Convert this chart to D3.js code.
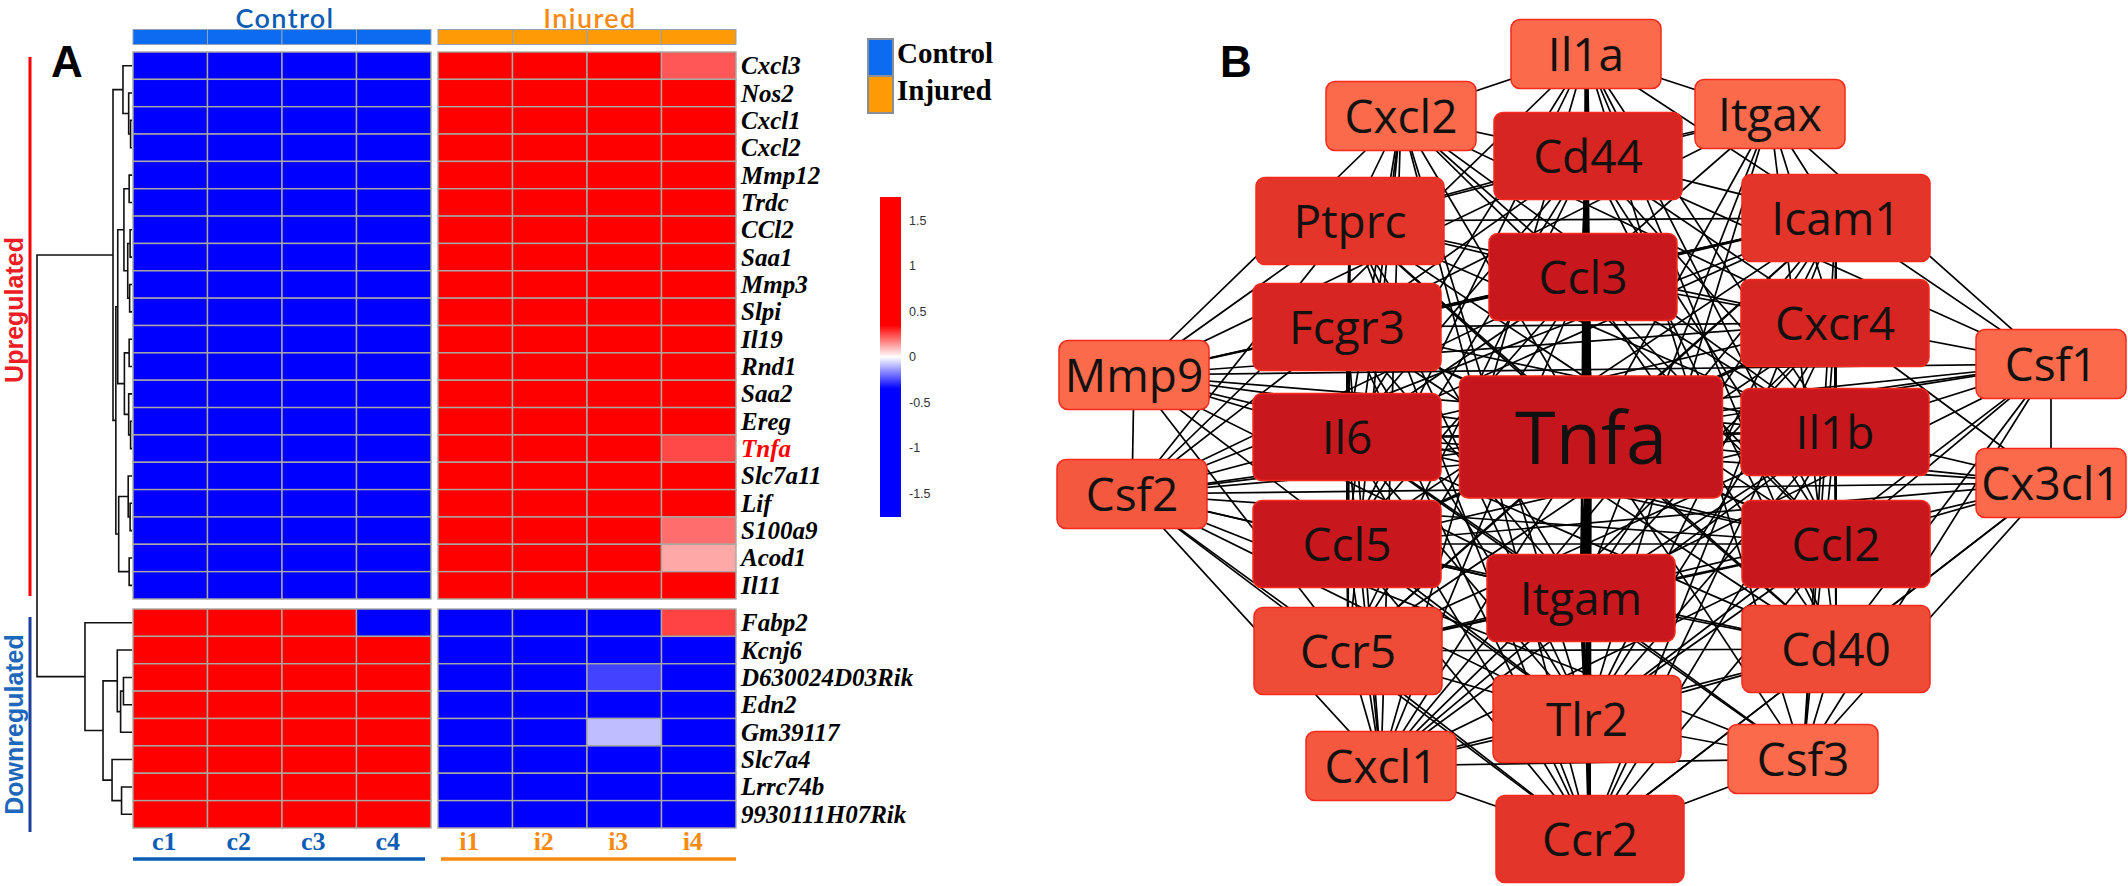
<!DOCTYPE html>
<html>
<head>
<meta charset="utf-8">
<script src="https://cdn.jsdelivr.net/npm/d3@7"></script>
<style>
  body { margin: 0; background: #fff; }
  svg { display: block; }
</style>
</head>
<body>
<div class="figure"></div>
<script>
// ---- panel A: heatmap data ----
const samples = ["c1", "c2", "c3", "c4", "i1", "i2", "i3", "i4"];
const sampleGroups = ["Control", "Control", "Control", "Control", "Injured", "Injured", "Injured", "Injured"];
const groupNames = ["Control", "Injured"];

const upGenes = ["Cxcl3", "Nos2", "Cxcl1", "Cxcl2", "Mmp12", "Trdc", "CCl2", "Saa1", "Mmp3", "Slpi",
  "Il19", "Rnd1", "Saa2", "Ereg", "Tnfa", "Slc7a11", "Lif", "S100a9", "Acod1", "Il11"];
const downGenes = ["Fabp2", "Kcnj6", "D630024D03Rik", "Edn2", "Gm39117", "Slc7a4", "Lrrc74b", "9930111H07Rik"];
const highlightGene = "Tnfa";

// z-scores, one row per gene, columns c1..c4, i1..i4
const upValues = [
  [-0.95, -0.93, -0.94, -0.96, 1.12, 1.18, 1.14, 0.23],
  [-0.92, -0.94, -0.95, -0.90, 1.05, 0.98, 1.08, 0.96],
  [-0.94, -0.91, -0.93, -0.95, 1.02, 1.06, 0.99, 0.92],
  [-0.93, -0.95, -0.92, -0.94, 1.04, 0.97, 1.03, 0.98],
  [-0.90, -0.96, -0.94, -0.93, 0.99, 1.07, 1.01, 0.94],
  [-0.95, -0.92, -0.96, -0.91, 1.03, 1.00, 0.95, 0.97],
  [-0.93, -0.94, -0.90, -0.95, 1.06, 0.98, 1.02, 0.91],
  [-0.91, -0.93, -0.95, -0.94, 1.00, 1.04, 0.97, 0.99],
  [-0.96, -0.90, -0.93, -0.92, 0.97, 1.05, 1.01, 0.95],
  [-0.92, -0.95, -0.91, -0.96, 1.02, 0.99, 1.06, 0.93],
  [-0.94, -0.93, -0.92, -0.93, 1.01, 1.03, 0.98, 0.96],
  [-0.93, -0.91, -0.96, -0.92, 0.98, 1.02, 1.05, 0.94],
  [-0.95, -0.94, -0.90, -0.93, 1.04, 0.96, 1.00, 0.97],
  [-0.91, -0.95, -0.94, -0.92, 1.00, 1.01, 0.99, 0.95],
  [-0.96, -0.97, -0.95, -0.96, 1.20, 1.25, 1.18, 0.25],
  [-0.92, -0.93, -0.94, -0.95, 1.03, 0.99, 1.02, 0.96],
  [-0.94, -0.92, -0.93, -0.91, 0.98, 1.04, 1.01, 0.93],
  [-0.98, -0.95, -0.96, -0.97, 1.21, 1.19, 1.24, 0.20],
  [-1.00, -0.98, -0.99, -0.97, 1.28, 1.30, 1.26, 0.12],
  [-0.93, -0.94, -0.92, -0.95, 1.02, 1.00, 0.99, 0.97]
];
const downValues = [
  [1.10, 1.05, 1.08, -0.60, -0.85, -0.90, -0.88, 0.26],
  [0.95, 0.98, 0.93, 0.96, -0.94, -0.97, -0.92, -0.95],
  [1.05, 1.02, 1.07, 1.04, -1.10, -1.06, -0.26, -1.08],
  [0.97, 0.94, 0.99, 0.96, -0.95, -0.98, -0.93, -0.96],
  [1.08, 1.10, 1.06, 1.09, -1.12, -1.15, -0.09, -1.11],
  [0.96, 0.99, 0.95, 0.97, -0.96, -0.94, -0.98, -0.93],
  [0.94, 0.97, 0.96, 0.95, -0.97, -0.93, -0.96, -0.95],
  [0.98, 0.95, 0.97, 0.94, -0.93, -0.96, -0.95, -0.97]
];

// colour key ticks
const legendTicks = [1.5, 1, 0.5, 0, -0.5, -1, -1.5];
const legendRange = [-1.76, 1.76];

// row dendrograms: [left, right, height], leaves are gene names
const upTree = [
  ["Cxcl3", ["Nos2", ["Cxcl1", "Cxcl2", 0.15], 0.35], 0.95],
  [
    [
      [["Mmp12", "Trdc", 0.3], [["CCl2", "Saa1", 0.2], ["Mmp3", "Slpi", 0.25], 0.45], 0.85],
      [["Il19", "Rnd1", 0.3], ["Saa2", ["Ereg", "Tnfa", 0.15], 0.35], 0.8],
      1.5
    ],
    [["Slc7a11", ["Lif", "S100a9", 0.2], 0.4], ["Acod1", "Il11", 0.3], 1.4],
    1.7
  ],
  2.0
];
const downTree = [
  "Fabp2",
  [
    ["Kcnj6", [["D630024D03Rik", "Edn2", 0.9], "Gm39117", 1.2], 1.55],
    ["Slc7a4", ["Lrrc74b", "9930111H07Rik", 1.1], 2.1],
    3.05
  ],
  4.95
];
const rootHeight = 10;

// ---- panel B: network data ----
const nodeNames = ["Il1a", "Cxcl2", "Itgax", "Cd44", "Ptprc", "Icam1", "Ccl3", "Fcgr3", "Cxcr4", "Mmp9",
  "Csf1", "Tnfa", "Il6", "Il1b", "Csf2", "Cx3cl1", "Ccl5", "Ccl2", "Itgam", "Ccr5", "Cd40", "Tlr2",
  "Cxcl1", "Csf3", "Ccr2"];
// layout coordinates (layout units, Tnfa at origin)
const nodeX = [-4, -189, 180, -2, -240, 246, -7, -243, 245, -456, 461, 1, -243, 245, -458, 461, -243, 246,
  -9, -242, 246, -3, -209, 213, 0];
const nodeY = [-383, -321, -323, -281, -216, -219, -160, -110, -114, -62, -73, 0, 0, -5, 57, 46, 107, 107,
  161, 214, 212, 282, 329, 322, 402];
// hub score (drives colour and box size)
const nodeScore = [4, 4, 4, 8, 7, 7, 9, 8, 8, 4, 4, 10, 9, 9, 5, 4, 9, 9, 9, 6, 6, 6, 5, 4, 7];

// interactions, listed once per pair
const interactions = {
  Tnfa: "Il6 Il1b Ccl2 Ccl3 Ccl5 Itgam Cd44 Fcgr3 Cxcr4 Icam1 Ptprc Ccr2 Cd40 Tlr2 Ccr5 Cxcl1 Csf2 Cxcl2 Il1a Itgax Mmp9 Csf1 Cx3cl1 Csf3",
  Il6: "Il1b Ccl2 Ccl3 Ccl5 Itgam Cd44 Fcgr3 Cxcr4 Icam1 Ptprc Ccr2 Cd40 Tlr2 Ccr5 Cxcl1 Csf2 Cxcl2 Il1a Mmp9 Csf1 Cx3cl1 Csf3",
  Il1b: "Ccl2 Ccl3 Ccl5 Itgam Cd44 Fcgr3 Cxcr4 Icam1 Ptprc Ccr2 Cd40 Tlr2 Ccr5 Cxcl1 Csf2 Cxcl2 Il1a Mmp9 Csf1 Cx3cl1 Csf3",
  Ccl2: "Ccl3 Ccl5 Itgam Cd44 Fcgr3 Cxcr4 Icam1 Ptprc Ccr2 Cd40 Tlr2 Ccr5 Cxcl1 Csf2 Cxcl2 Il1a Mmp9 Csf1 Cx3cl1",
  Ccl3: "Ccl5 Itgam Cd44 Fcgr3 Cxcr4 Icam1 Ptprc Ccr2 Cd40 Tlr2 Ccr5 Cxcl1 Csf2 Cxcl2 Il1a Itgax Mmp9",
  Ccl5: "Itgam Cd44 Fcgr3 Cxcr4 Icam1 Ptprc Ccr2 Cd40 Tlr2 Ccr5 Cxcl1 Csf2 Cxcl2 Il1a Cx3cl1",
  Itgam: "Cd44 Fcgr3 Cxcr4 Icam1 Ptprc Ccr2 Cd40 Tlr2 Ccr5 Cxcl1 Csf2 Il1a Itgax Mmp9 Csf1 Csf3",
  Cd44: "Fcgr3 Cxcr4 Icam1 Ptprc Ccr2 Cd40 Tlr2 Ccr5 Cxcl2 Il1a Itgax Mmp9 Csf1",
  Fcgr3: "Cxcr4 Icam1 Ptprc Ccr2 Cd40 Tlr2 Ccr5 Cxcl1 Csf2 Itgax Mmp9",
  Cxcr4: "Icam1 Ptprc Ccr2 Cd40 Tlr2 Ccr5 Cxcl1 Cxcl2 Itgax Mmp9 Csf1 Cx3cl1 Csf3",
  Icam1: "Ptprc Ccr2 Cd40 Tlr2 Ccr5 Cxcl1 Csf2 Il1a Itgax Mmp9 Csf1 Csf3",
  Ptprc: "Ccr2 Cd40 Tlr2 Ccr5 Cxcl2 Itgax Mmp9 Csf2",
  Ccr2: "Cd40 Tlr2 Ccr5 Cxcl1 Cxcl2 Il1a Csf3 Csf2 Cx3cl1",
  Cd40: "Tlr2 Ccr5 Cxcl1 Il1a Itgax Csf1 Csf3 Cx3cl1",
  Tlr2: "Ccr5 Cxcl1 Csf2 Cxcl2 Il1a Itgax Mmp9 Csf1 Csf3",
  Ccr5: "Cxcl1 Csf2 Cxcl2 Mmp9 Cx3cl1",
  Cxcl1: "Cxcl2 Il1a Csf2 Csf3",
  Csf2: "Il1a Mmp9 Csf1 Cx3cl1 Csf3",
  Cxcl2: "Il1a Mmp9",
  Il1a: "Itgax Csf3",
  Itgax: "Csf1",
  Mmp9: "Csf1",
  Csf1: "Cx3cl1 Csf3",
  Cx3cl1: "Csf3"
};
// combined-score weights for the strongest links (others weight 1)
const strongLinks = [["Tnfa", "Ccl3", 4], ["Tnfa", "Itgam", 4], ["Cd44", "Ccl3", 3], ["Itgam", "Tlr2", 2.5],
  ["Tlr2", "Ccr2", 2.5], ["Il1a", "Cd44", 2.5]];


const svg = d3.select(".figure").append("svg").attr("width", 2128).attr("height", 886);

drawHeatmap();
drawNetwork();

function drawHeatmap(){
    const g = svg.append("g");

    //columns: one band per sample, injured block shifted to leave the split gap
    const colX = d3.scaleBand().domain(samples).range([133, 729]);
    const splitGap = 7;
    const xOf = s => colX(s) + (sampleGroups[samples.indexOf(s)] === "Injured" ? splitGap : 0);

    const upY = d3.scaleBand().domain(upGenes).range([52, 599]);
    const downY = d3.scaleBand().domain(downGenes).range([609, 828]);
    const rowCenter = gene => upGenes.includes(gene)
        ? upY(gene) + upY.bandwidth() / 2
        : downY(gene) + downY.bandwidth() / 2;

    const color = d3.scaleLinear()
        .domain([legendRange[0], -0.35, 0, 0.35, legendRange[1]])
        .range(["#0000ff", "#0000ff", "#ffffff", "#ff0000", "#ff0000"])
        .clamp(true);

    const groupColor = d3.scaleOrdinal().domain(groupNames).range(["#0b6cf2", "#fd9a05"]);
    const groupText = d3.scaleOrdinal().domain(groupNames).range(["#0c5db5", "#f88a12"]);

    //group extents
    const extents = groupNames.map(name => {
        const cols = samples.filter((s, i) => sampleGroups[i] === name);
        return {name, x0: xOf(cols[0]), x1: xOf(cols[cols.length - 1]) + colX.bandwidth()};
    });

    //group titles go first so the annotation bar sits on top of the descenders
    g.selectAll(".groupTitle").data(extents).join("text")
        .attr("class", "groupTitle")
        .attr("x", d => (d.x0 + d.x1) / 2 + 3)
        .attr("y", 27.5)
        .attr("text-anchor", "middle")
        .attr("font-family", "Lato")
        .attr("font-weight", 600)
        .attr("font-size", "27px")
        .attr("letter-spacing", "1.4px")
        .attr("fill", d => groupText(d.name))
        .text(d => d.name);

    //cells
    const cells = [];
    upGenes.forEach((gene, i) => samples.forEach((s, j) => cells.push({gene, s, v: upValues[i][j], y: upY(gene), h: upY.bandwidth()})));
    downGenes.forEach((gene, i) => samples.forEach((s, j) => cells.push({gene, s, v: downValues[i][j], y: downY(gene), h: downY.bandwidth()})));

    g.selectAll(".cell").data(cells).join("rect")
        .attr("class", "cell")
        .attr("x", d => xOf(d.s))
        .attr("y", d => d.y)
        .attr("width", colX.bandwidth())
        .attr("height", d => d.h)
        .attr("fill", d => color(d.v))
        .attr("stroke", "#a9aaa2")
        .attr("stroke-width", 1.4);

    //annotation bar on top
    g.selectAll(".annot").data(samples).join("rect")
        .attr("class", "annot")
        .attr("x", d => xOf(d))
        .attr("y", 29.5)
        .attr("width", colX.bandwidth())
        .attr("height", 15)
        .attr("fill", (d, i) => groupColor(sampleGroups[i]))
        .attr("stroke", "#8fa4b8")
        .attr("stroke-width", 1);

    //sample labels and underlines
    g.selectAll(".sampleLabel").data(samples).join("text")
        .attr("class", "sampleLabel")
        .attr("x", d => xOf(d) + colX.bandwidth() / 2 - 6)
        .attr("y", 850)
        .attr("text-anchor", "middle")
        .attr("font-family", "Liberation Serif")
        .attr("font-weight", "bold")
        .attr("font-size", "26px")
        .attr("fill", (d, i) => groupText(sampleGroups[i]))
        .text(d => d);

    g.selectAll(".underline").data(extents).join("line")
        .attr("class", "underline")
        .attr("x1", (d, i) => d.x0 + (i ? 3 : 0))
        .attr("x2", (d, i) => d.x1 - (i ? 0 : 6))
        .attr("y1", 859).attr("y2", 859)
        .attr("stroke", d => groupText(d.name))
        .attr("stroke-width", 3.5);

    //gene labels
    g.selectAll(".gene").data(upGenes.concat(downGenes)).join("text")
        .attr("class", "gene")
        .attr("x", 741)
        .attr("y", d => rowCenter(d) + 8.5)
        .attr("font-family", "Liberation Serif")
        .attr("font-style", "italic")
        .attr("font-weight", "bold")
        .attr("font-size", "25px")
        .attr("fill", d => d === highlightGene ? "#ff0000" : "#000")
        .text(d => d);

    //dendrogram
    const dX = d3.scaleLinear().domain([0, rootHeight]).range([132, 37]);
    const segs = [];
    function place(node){
        if(typeof node === "string"){
            return {x: 132, y: rowCenter(node)};
        }
        const l = place(node[0]);
        const r = place(node[1]);
        const x = dX(node[2]);
        segs.push(`M${l.x},${l.y}H${x}V${r.y}H${r.x}`);
        return {x, y: (l.y + r.y) / 2};
    }
    place([upTree, downTree, rootHeight]);

    g.selectAll(".dendro").data(segs).join("path")
        .attr("class", "dendro")
        .attr("d", d => d)
        .attr("fill", "none")
        .attr("stroke", "#111")
        .attr("stroke-width", 1.6);

    //up / down brackets
    const brackets = [
        {label: "Upregulated", y0: upY.range()[0] + 5, y1: upY.range()[1] - 3, color: "#ee1c25", line: "#ff0000"},
        {label: "Downregulated", y0: downY.range()[0] + 8, y1: downY.range()[1] + 4, color: "#1d68bb", line: "#1d3f9e"}
    ];
    g.selectAll(".bracket").data(brackets).join("line")
        .attr("class", "bracket")
        .attr("x1", 30).attr("x2", 30)
        .attr("y1", d => d.y0).attr("y2", d => d.y1)
        .attr("stroke", d => d.line)
        .attr("stroke-width", 3);

    g.selectAll(".bracketLabel").data(brackets).join("text")
        .attr("class", "bracketLabel")
        .attr("transform", (d, i) => `translate(23, ${i ? (d.y0 + d.y1) / 2 : 310}) rotate(-90)`)
        .attr("text-anchor", "middle")
        .attr("font-family", "Liberation Sans")
        .attr("font-weight", "bold")
        .attr("font-size", "25px")
        .attr("fill", d => d.color)
        .text(d => d.label);

    //panel letter
    g.append("text").text("A")
        .attr("x", 51).attr("y", 77)
        .attr("font-family", "Liberation Sans").attr("font-weight", "bold").attr("font-size", "44px");

    //group legend
    const legend = g.append("g");
    legend.selectAll("rect").data(groupNames).join("rect")
        .attr("x", 868)
        .attr("y", (d, i) => 39 + i * 37)
        .attr("width", 25)
        .attr("height", 37)
        .attr("fill", d => groupColor(d))
        .attr("stroke", "#8a8f96")
        .attr("stroke-width", 2);
    legend.selectAll("text").data(groupNames).join("text")
        .attr("x", 897)
        .attr("y", (d, i) => 63 + i * 37)
        .attr("font-family", "Liberation Serif")
        .attr("font-weight", "bold")
        .attr("font-size", "29px")
        .text(d => d);

    //colour key
    const keyY = d3.scaleLinear().domain([legendRange[1], legendRange[0]]).range([197, 517]);
    const grad = svg.append("defs").append("linearGradient")
        .attr("id", "keyGrad")
        .attr("x1", 0).attr("x2", 0).attr("y1", 0).attr("y2", 1);
    grad.selectAll("stop").data(color.domain().slice().reverse()).join("stop")
        .attr("offset", d => (keyY(d) - 197) / 320)
        .attr("stop-color", d => color(d));
    g.append("rect")
        .attr("x", 880).attr("y", keyY(legendRange[1]))
        .attr("width", 21).attr("height", keyY(legendRange[0]) - keyY(legendRange[1]))
        .attr("fill", "url(#keyGrad)");
    g.selectAll(".keyTick").data(legendTicks).join("text")
        .attr("class", "keyTick")
        .attr("x", 909)
        .attr("y", d => keyY(d))
        .attr("dy", "0.35em")
        .attr("font-family", "Liberation Sans")
        .attr("font-size", "12.5px")
        .attr("fill", "#333")
        .text(d => d);
}

function drawNetwork(){
    const g = svg.append("g");

    const nx = d3.scaleLinear().domain([-500, 500]).range([1090, 2090]);
    const ny = d3.scaleLinear().domain([-450, 450]).range([-13, 887]);

    const fill = d3.scaleLinear()
        .domain([4, 5, 6, 7, 8, 9, 10])
        .range(["#fa6a4b", "#f4593f", "#ef4c37", "#e3352a", "#d72522", "#c9171e", "#c6161d"]);
    const boxW = d3.scaleThreshold().domain([6, 10]).range([150, 188, 263]);
    const boxH = d3.scaleThreshold().domain([6, 10]).range([69, 87, 122]);
    const labelSize = d3.scaleThreshold().domain([10]).range([46, 74]);

    const nodes = nodeNames.map((name, i) => ({name, x: nx(nodeX[i]), y: ny(nodeY[i]), score: nodeScore[i]}));
    const byName = new Map(nodes.map(n => [n.name, n]));

    const weight = new Map(strongLinks.map(d => [[d[0], d[1]].sort().join("|"), d[2]]));
    const links = [];
    for(const [src, list] of Object.entries(interactions)){
        for(const tgt of list.split(" ")){
            const key = [src, tgt].sort().join("|");
            links.push({source: byName.get(src), target: byName.get(tgt), w: weight.get(key) || 1});
        }
    }
    const linkWidth = d3.scaleLinear().domain([1, 4]).range([1.7, 7]);

    g.selectAll(".link").data(links).join("line")
        .attr("class", "link")
        .attr("x1", d => d.source.x).attr("y1", d => d.source.y)
        .attr("x2", d => d.target.x).attr("y2", d => d.target.y)
        .attr("stroke", "#000")
        .attr("stroke-width", d => linkWidth(d.w));

    const node = g.selectAll(".node").data(nodes).join("g")
        .attr("class", "node")
        .attr("transform", d => `translate(${d.x},${d.y})`);

    node.append("rect")
        .attr("x", d => -boxW(d.score) / 2)
        .attr("y", d => -boxH(d.score) / 2)
        .attr("width", d => boxW(d.score))
        .attr("height", d => boxH(d.score))
        .attr("rx", 9)
        .attr("fill", d => fill(d.score))
        .attr("stroke", "#f42a1c")
        .attr("stroke-width", 1.5);

    node.append("text")
        .attr("text-anchor", "middle")
        .attr("y", d => labelSize(d.score) * 0.36)
        .attr("font-family", "Open Sans")
        .attr("font-size", d => labelSize(d.score) + "px")
        .attr("fill", "#111")
        .text(d => d.name);

    g.append("text").text("B")
        .attr("x", 1220).attr("y", 77)
        .attr("font-family", "Liberation Sans").attr("font-weight", "bold").attr("font-size", "44px");
}
</script>
</body>
</html>
